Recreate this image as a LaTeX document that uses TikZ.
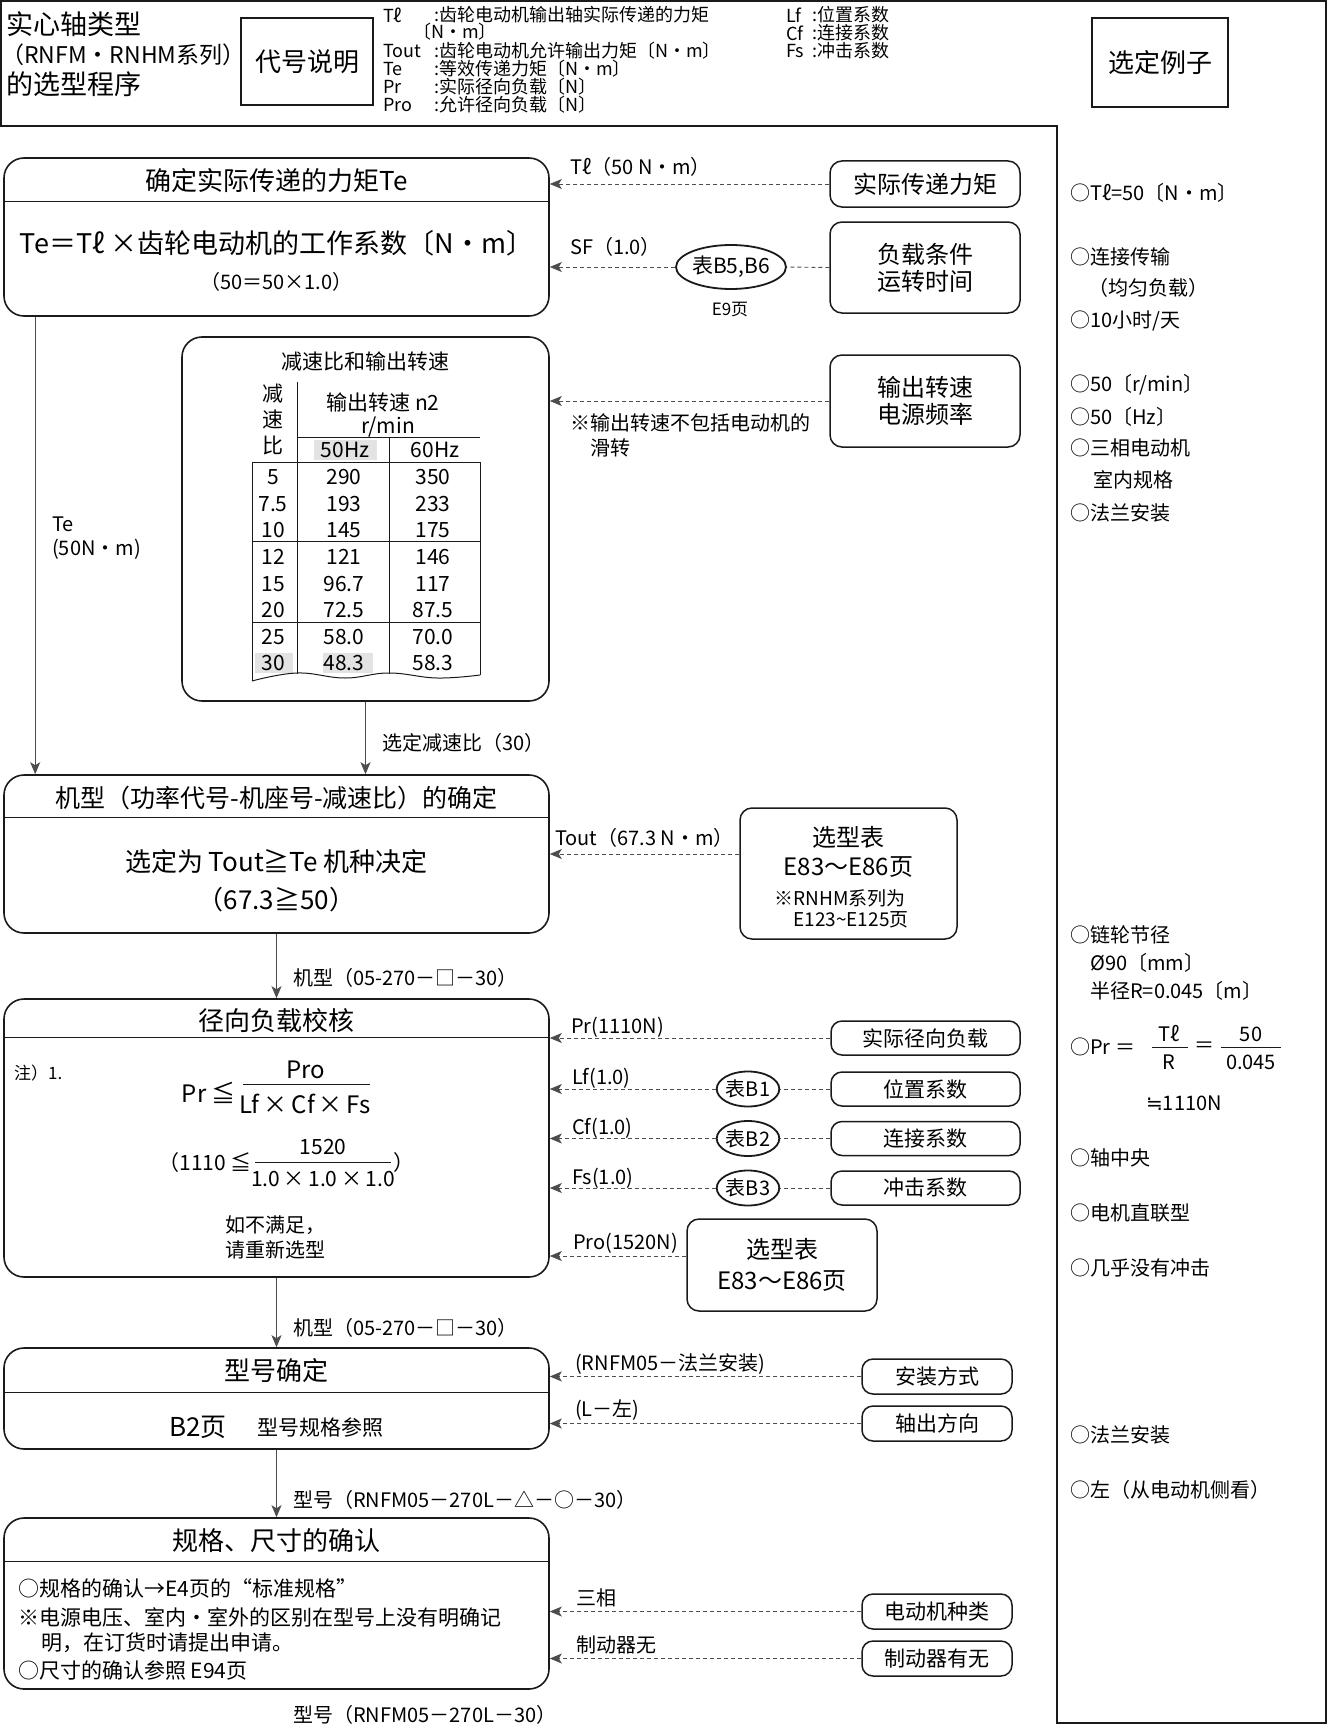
\documentclass[tikz,border=0pt]{standalone}
\usepackage{fontspec}
\setmainfont{Noto Sans CJK SC}
\newfontfamily\symfont{DejaVu Sans}
\usetikzlibrary{arrows.meta,positioning,calc,shapes.geometric}
\definecolor{ink}{HTML}{1A1A1A}
\definecolor{wire}{HTML}{4D4D4D}
\definecolor{cellgray}{HTML}{E3E3E3}
\newcommand{\fz}[2]{\fontsize{#1pt}{#2pt}\selectfont}

\begin{document}
\begin{tikzpicture}[x=1pt,y=-1pt,
 flowbox/.style={draw=ink,line width=1.6pt,rounded corners=20pt,inner sep=0pt},
 keybox/.style={draw=ink,line width=1.4pt,inner sep=0pt,font=\fz{26}{30}},
 inbox/.style={draw=ink,line width=1.5pt,rounded corners=12pt,align=center,inner sep=0pt,font=\fz{24}{27}},
 tagbox/.style={draw=ink,line width=1.5pt,rounded corners=11pt,inner sep=0pt,font=\fz{21}{25}},
 tabref/.style={ellipse,draw=ink,line width=1.8pt,inner sep=0pt,font=\fz{20}{24}},
 sepline/.style={draw=ink,line width=0.8pt},
 tabline/.style={draw=ink,line width=1pt},
 flow/.style={-{Stealth[length=12pt,width=10pt,inset=3pt]},draw=wire,line width=0.9pt},
 feed/.style={-{Stealth[length=12pt,width=10pt,inset=3pt]},draw=wire,line width=0.9pt,dash pattern=on 4pt off 3pt},
 link/.style={draw=wire,line width=0.9pt,dash pattern=on 4pt off 3pt},
 legend/.style={anchor=west,inner sep=0pt,font=\fz{18}{20}},
 lbl/.style={anchor=west,inner sep=0pt,font=\fz{20}{25}},
 example/.style={anchor=west,inner sep=0pt,font=\fz{20}{24}},
 head/.style={inner sep=0pt,font=\fz{26}{30}},
 cell/.style={inner sep=0pt,font=\fz{21}{26}},
 body/.style={inner sep=0pt,font=\fz{21}{25}}
]
\useasboundingbox (0,0) rectangle (1328,1731);

% outer frame
\draw[draw=ink,line width=1.6pt] (1,126) -- (1,1) -- (1326,1) -- (1326,1723) -- (1057,1723) -- (1057,126) -- cycle;

% header
\node[anchor=west,inner sep=0pt,font=\fz{27}{30}] (ttl1) at (6,24) {实心轴类型};
\node[anchor=west,inner sep=0pt,font=\fz{23}{28}] (ttl2) at (1,55) {（RNFM・RNHM系列）};
\node[anchor=west,inner sep=0pt,font=\fz{27}{30}] (ttl3) at (6,84) {的选型程序};
\node[keybox,minimum width=132pt,minimum height=87pt] (keys) at (307,61.5) {代号说明};
\node[keybox,minimum width=136pt,minimum height=89pt] (examples) at (1160,62.5) {选定例子};

\node[legend] (symTl) at (383,15) {Tℓ};
\node[legend] (defTl) at (434,15) {:齿轮电动机输出轴实际传递的力矩};
\node[legend] (unitTl) at (413,32) {〔N・m〕};
\node[legend] (symTout) at (383,51) {Tout};
\node[legend] (defTout) at (434,51) {:齿轮电动机允许输出力矩〔N・m〕};
\node[legend] (symTe) at (383,69) {Te};
\node[legend] (defTe) at (434,69) {:等效传递力矩〔N・m〕};
\node[legend] (symPr) at (383,87) {Pr};
\node[legend] (defPr) at (434,87) {:实际径向负载〔N〕};
\node[legend] (symPro) at (383,105) {Pro};
\node[legend] (defPro) at (434,105) {:允许径向负载〔N〕};
\node[legend] (symLf) at (786,15) {Lf};
\node[legend] (defLf) at (812,15) {:位置系数};
\node[legend] (symCf) at (786,33) {Cf};
\node[legend] (defCf) at (812,33) {:连接系数};
\node[legend] (symFs) at (786,51) {Fs};
\node[legend] (defFs) at (812,51) {:冲击系数};

% step 1: torque
\node[flowbox,minimum width=545pt,minimum height=158pt] (torque) at (276.5,237) {};
\draw[sepline] ($(torque.north west)+(0,44)$) -- ($(torque.north east)+(0,44)$);
\node[head] (torque-t) at (276.5,181) {确定实际传递的力矩Te};
\node[inner sep=0pt,font=\fz{27}{30}] (torque-f) at (276.5,243) {Te＝Tℓ ×齿轮电动机的工作系数〔N・m〕};
\node[inner sep=0pt,font=\fz{20}{24}] (torque-v) at (276.5,282) {（50＝50×1.0）};

% ratio table
\node[flowbox,minimum width=367pt,minimum height=364pt] (ratio) at (365.5,519) {};
\fill[cellgray] (314,440) rectangle (377,460);
\fill[cellgray] (255,653) rectangle (293,673);
\fill[cellgray] (323,653) rectangle (373,673);
\draw[tabline] (297,382) -- (297,674);
\draw[tabline] (297,437) -- (480,437);
\draw[tabline] (389,437) -- (389,674);
\draw[tabline] (480,675) -- (480,462) -- (252,462) -- (252,681);
\draw[tabline] (252,541) -- (480,541);
\draw[tabline] (252,622) -- (480,622);
\draw[tabline] plot[smooth,tension=0.7] coordinates {(252,681) (297,673) (345,678) (389,673) (437,678) (480,675)};
\node[cell] (ratio-t) at (365,362) {减速比和输出转速};
\node[cell,align=center] (ratio-h) at (273,419) {减\\速\\比};
\node[cell] (speed-h) at (383,402) {输出转速 n2};
\node[cell] (speed-u) at (388,427) {r/min};
\node[cell] (hz50) at (345,450) {50Hz};
\node[cell] (hz60) at (435,450) {60Hz};
\foreach \rt/\fa/\fb/\yy in {5/290/350/477,7.5/193/233/504,10/145/175/530,12/121/146/557,15/96.7/117/584,20/72.5/87.5/610,25/58.0/70.0/637,30/48.3/58.3/663}{
 \node[cell] (rt-\yy) at (273,\yy) {\rt};
 \node[cell] (fa-\yy) at (344,\yy) {\fa};
 \node[cell] (fb-\yy) at (433,\yy) {\fb};
}

% step 2: frame
\node[flowbox,minimum width=545pt,minimum height=158pt] (frame) at (276.5,854) {};
\draw[sepline] ($(frame.north west)+(0,43)$) -- ($(frame.north east)+(0,43)$);
\node[inner sep=0pt,font=\fz{25}{30}] (frame-t) at (276.5,798) {机型（功率代号-机座号-减速比）的确定};
\node[inner sep=0pt,font=\fz{26}{30}] (frame-f) at (276.5,862) {选定为 Tout≧Te 机种决定};
\node[inner sep=0pt,font=\fz{26}{30}] (frame-v) at (276.5,900) {（67.3≧50）};

% step 3: radial load
\node[flowbox,minimum width=545pt,minimum height=278pt] (radial) at (276.5,1138) {};
\draw[sepline] ($(radial.north west)+(0,39)$) -- ($(radial.north east)+(0,39)$);
\node[head] (radial-t) at (276.5,1021) {径向负载校核};
\node[anchor=west,inner sep=0pt,font=\fz{17}{20}] (radial-n) at (14,1073) {注）1.};
\node[anchor=east,inner sep=0pt,font=\fz{24}{28}] (radial-l) at (236,1093) {Pr ≦};
\node[inner sep=0pt,font=\fz{24}{28}] (radial-a) at (306,1070) {Pro};
\draw[sepline] (243,1084) -- (370,1084);
\node[inner sep=0pt,font=\fz{24}{28}] (radial-b) at (305,1104) {Lf\,×\,Cf\,×\,Fs};
\node[anchor=east,inner sep=0pt,font=\fz{21}{25}] (radial-m) at (252,1163) {（1110 ≦};
\node[inner sep=0pt,font=\fz{21}{25}] (radial-c) at (323,1147) {1520};
\draw[sepline] (255,1162) -- (391,1162);
\node[inner sep=0pt,font=\fz{21}{25}] (radial-d) at (323,1179) {1.0\,×\,1.0\,×\,1.0};
\node[inner sep=0pt,font=\fz{21}{25}] (radial-e) at (404,1163) {）};
\node[inner sep=0pt,align=center,font=\fz{20}{25}] (radial-r) at (275,1237) {如不满足，\\请重新选型};

% step 4: type number
\node[flowbox,minimum width=545pt,minimum height=101pt] (typeno) at (276.5,1398.5) {};
\draw[sepline] ($(typeno.north west)+(0,45)$) -- ($(typeno.north east)+(0,45)$);
\node[head] (typeno-t) at (276.5,1371) {型号确定};
\node[inner sep=0pt,font=\fz{26}{30}] (typeno-p) at (198,1427) {B2页};
\node[anchor=west,inner sep=0pt,font=\fz{21}{25}] (typeno-r) at (257,1428) {型号规格参照};

% step 5: specification
\node[flowbox,minimum width=545pt,minimum height=171pt] (spec) at (276.5,1603.5) {};
\draw[sepline] ($(spec.north west)+(0,44)$) -- ($(spec.north east)+(0,44)$);
\node[head] (spec-t) at (276.5,1541) {规格、尺寸的确认};
\node[body,anchor=west] (spec-1) at (18,1588) {○规格的确认→E4页的“标准规格”};
\node[body,anchor=west] (spec-2) at (18,1617) {※电源电压、室内・室外的区别在型号上没有明确记};
\node[body,anchor=west] (spec-3) at (41,1643) {明，在订货时请提出申请。};
\node[body,anchor=west] (spec-4) at (18,1670) {○尺寸的确认参照 E94页};

% main flow
\draw[flow] ([xshift=32pt]torque.south west) -- ([xshift=32pt]frame.north west);
\node[lbl] (te-1) at (52,524) {Te};
\node[lbl] (te-2) at (52,549) {(50N・m)};
\draw[flow] (ratio.south) -- (ratio.south |- frame.north);
\node[lbl] (pick) at (382,743) {选定减速比（30）};
\draw[flow] (frame.south) -- (radial.north);
\node[lbl] (model-1) at (293,978) {机型（05-270－□－30）};
\draw[flow] (radial.south) -- (typeno.north);
\node[lbl] (model-2) at (293,1328) {机型（05-270－□－30）};
\draw[flow] (typeno.south) -- (spec.north);
\node[lbl] (code-1) at (293,1500) {型号（RNFM05－270L－△－○－30）};
\node[lbl] (code-2) at (293,1715) {型号（RNFM05－270L－30）};

% inputs for step 1 and the table
\node[inbox,minimum width=190pt,minimum height=46pt] (torqin) at (925,184) {实际传递力矩};
\node[inbox,minimum width=190pt,minimum height=91pt] (loadin) at (925,267.5) {负载条件\\运转时间};
\node[inbox,minimum width=190pt,minimum height=92pt] (speedin) at (925,401) {输出转速\\电源频率};
\node[tabref,minimum width=103pt,minimum height=44pt,font=\fz{21}{25}] (sfref) at (731,267) {表B5,B6};
\node[inner sep=0pt,font=\fz{17}{20}] (sfpage) at (730,310) {E9页};
\draw[feed] (torqin.west) -- (torqin.west -| torque.east);
\draw[link] (loadin.west) -- (sfref.east);
\draw[feed] (sfref.west) -- (sfref.west -| torque.east);
\draw[feed] (speedin.west) -- (speedin.west -| ratio.east);
\node[lbl] (tl-l) at (570,167) {Tℓ（50 N・m）};
\node[lbl] (sf-l) at (570,247) {SF（1.0）};
\node[lbl] (slip-1) at (570,423) {※输出转速不包括电动机的};
\node[lbl] (slip-2) at (590,448) {滑转};

% input for step 2
\node[inbox,minimum width=217pt,minimum height=131pt] (seltab) at (848.5,873.5) {};
\node[inner sep=0pt,font=\fz{24}{28}] (seltab-1) at (848.5,837) {选型表};
\node[inner sep=0pt,font=\fz{24}{28}] (seltab-2) at (848.5,867) {E83～E86页};
\node[inner sep=0pt,font=\fz{19}{22}] (seltab-3) at (840,898) {※RNHM系列为};
\node[inner sep=0pt,font=\fz{19}{22}] (seltab-4) at (851,920) {E123\textasciitilde E125页};
\coordinate (seltap) at ([yshift=19.5pt]seltab.west);
\draw[feed] (seltap) -- (seltap -| frame.east);
\node[lbl] (tout-l) at (555,838) {Tout（67.3 N・m）};

% inputs for step 3
\node[tagbox,minimum width=189pt,minimum height=34pt] (prin) at (925.5,1038) {实际径向负载};
\node[tagbox,minimum width=189pt,minimum height=34pt] (lfin) at (925.5,1089) {位置系数};
\node[tagbox,minimum width=189pt,minimum height=34pt] (cfin) at (925.5,1138.5) {连接系数};
\node[tagbox,minimum width=189pt,minimum height=34pt] (fsin) at (925.5,1188) {冲击系数};
\node[tabref,minimum width=53pt,minimum height=35pt] (lfref) at (748,1089) {表B1};
\node[tabref,minimum width=53pt,minimum height=35pt] (cfref) at (748,1138.5) {表B2};
\node[tabref,minimum width=53pt,minimum height=35pt] (fsref) at (748,1188) {表B3};
\node[inbox,minimum width=190pt,minimum height=92pt,font=\fz{24}{31}] (selpro) at (782,1265) {选型表\\E83～E86页};
\draw[feed] (prin.west) -- (prin.west -| radial.east);
\draw[link] (lfin.west) -- (lfref.east);
\draw[feed] (lfref.west) -- (lfref.west -| radial.east);
\draw[link] (cfin.west) -- (cfref.east);
\draw[feed] (cfref.west) -- (cfref.west -| radial.east);
\draw[link] (fsin.west) -- (fsref.east);
\draw[feed] (fsref.west) -- (fsref.west -| radial.east);
\coordinate (protap) at ([yshift=9pt]selpro.west);
\draw[feed] (protap) -- (protap -| radial.east);
\node[lbl] (pr-l) at (571,1027) {Pr(1110N)};
\node[lbl] (lf-l) at (572,1078) {Lf(1.0)};
\node[lbl] (cf-l) at (572,1128) {Cf(1.0)};
\node[lbl] (fs-l) at (572,1178) {Fs(1.0)};
\node[lbl] (pro-l) at (573,1243) {Pro(1520N)};

% inputs for steps 4 and 5
\node[tagbox,minimum width=150pt,minimum height=35pt] (mountin) at (937,1376.5) {安装方式};
\node[tagbox,minimum width=150pt,minimum height=35pt] (shaftin) at (937,1423.5) {轴出方向};
\node[tagbox,minimum width=150pt,minimum height=35pt] (motorin) at (937,1611.5) {电动机种类};
\node[tagbox,minimum width=150pt,minimum height=35pt] (brakein) at (937,1658.5) {制动器有无};
\draw[feed] (mountin.west) -- (mountin.west -| typeno.east);
\draw[feed] (shaftin.west) -- (shaftin.west -| typeno.east);
\draw[feed] (motorin.west) -- (motorin.west -| spec.east);
\draw[feed] (brakein.west) -- (brakein.west -| spec.east);
\node[lbl] (mount-l) at (575,1364) {(RNFM05－法兰安装)};
\node[lbl] (shaft-l) at (575,1410) {(L－左)};
\node[lbl] (motor-l) at (576,1598) {三相};
\node[lbl] (brake-l) at (576,1645) {制动器无};

% selection example column
\node[example] (ex-tl) at (1070,193) {○Tℓ=50〔N・m〕};
\node[example] (ex-conn) at (1070,257) {○连接传输};
\node[example] (ex-even) at (1088,288) {（均匀负载）};
\node[example] (ex-hours) at (1070,321) {○10小时/天};
\node[example] (ex-rpm) at (1070,385) {○50〔r/min〕};
\node[example] (ex-hz) at (1070,417) {○50〔Hz〕};
\node[example] (ex-phase) at (1070,448) {○三相电动机};
\node[example] (ex-indoor) at (1093,480) {室内规格};
\node[example] (ex-flange) at (1070,513) {○法兰安装};
\node[example] (ex-pitch) at (1070,935) {○链轮节径};
\node[example] (ex-dia) at (1090,963) {Ø90〔mm〕};
\node[example] (ex-rad) at (1090,991) {半径R=0.045〔m〕};
\node[example] (ex-pr) at (1070,1047) {○Pr ＝};
\node[inner sep=0pt,font=\fz{20}{24}] (ex-n1) at (1169,1034) {Tℓ};
\draw[sepline] (1152,1047) -- (1188,1047);
\node[inner sep=0pt,font=\fz{20}{24}] (ex-d1) at (1169,1062) {R};
\node[inner sep=0pt,font=\fz{20}{24}] (ex-eq) at (1204,1047) {＝};
\node[inner sep=0pt,font=\fz{20}{24}] (ex-n2) at (1251,1034) {50};
\draw[sepline] (1221,1047) -- (1281,1047);
\node[inner sep=0pt,font=\fz{20}{24}] (ex-d2) at (1251,1062) {0.045};
\node[example] (ex-res) at (1146,1103) {{\symfont ≒}1110N};
\node[example] (ex-mid) at (1070,1158) {○轴中央};
\node[example] (ex-direct) at (1070,1213) {○电机直联型};
\node[example] (ex-shock) at (1070,1268) {○几乎没有冲击};
\node[example] (ex-mount) at (1070,1435) {○法兰安装};
\node[example] (ex-left) at (1070,1490) {○左（从电动机侧看）};
\end{tikzpicture}
\end{document}
